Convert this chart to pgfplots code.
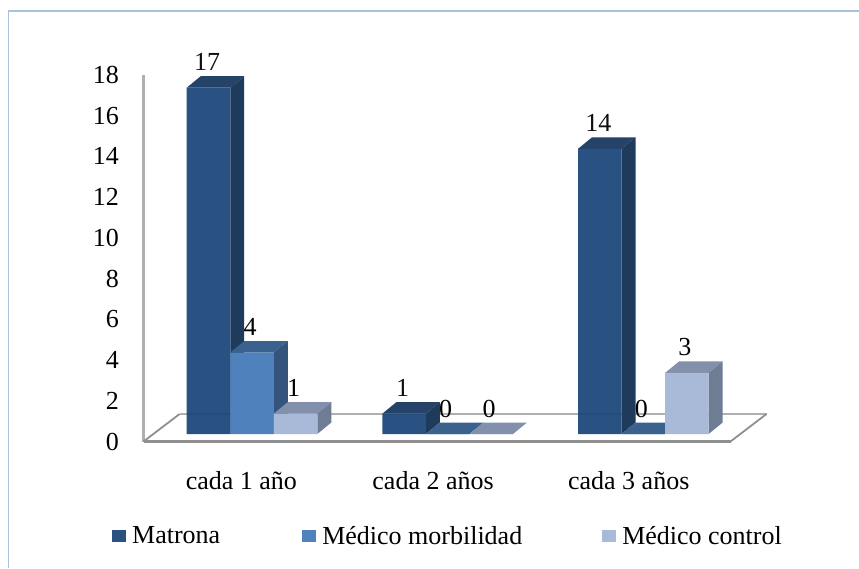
\documentclass[border=0pt]{standalone}
\usepackage{pgfplots}
\usepackage{fontspec}
\pgfplotsset{compat=1.18}
\setmainfont{Liberation Serif}
\newcommand{\chartfont}{\fontsize{26}{30}\selectfont}

\definecolor{matronaF}{HTML}{1C477B}
\definecolor{matronaS}{HTML}{1F3B5C}
\definecolor{matronaT}{HTML}{254269}
\definecolor{morbF}{HTML}{4F81BD}
\definecolor{morbS}{HTML}{34547C}
\definecolor{morbT}{HTML}{3B618F}
\definecolor{ctrlF}{HTML}{A9BAD9}
\definecolor{ctrlS}{HTML}{6F7D94}
\definecolor{ctrlT}{HTML}{8290AB}
\definecolor{wallgray}{HTML}{B0B0B0}
\definecolor{floorgray}{HTML}{8F8F8F}
\definecolor{framecol}{HTML}{A9C2E0}

% Receding faces of one bar: #1 centre, #2 value, #3 side colour, #4 top colour
\newcommand{\barfaces}[4]{%
  \pgfmathsetmacro{\xl}{#1-0.1112}%
  \pgfmathsetmacro{\xr}{#1+0.1112}%
  \pgfmathsetmacro{\xlb}{\xl+0.0715}%
  \pgfmathsetmacro{\xrb}{\xr+0.0715}%
  \pgfmathsetmacro{\vb}{#2+0.5646}%
  \addplot[forget plot,fill=#4,draw=none] coordinates {(\xl,#2) (\xr,#2) (\xrb,\vb) (\xlb,\vb)} --cycle;
  \ifdim #2pt>0pt
    \addplot[forget plot,fill=#3,draw=none] coordinates {(\xr,0) (\xrb,0.5646) (\xrb,\vb) (\xr,#2)} --cycle;
  \fi
}

\begin{document}
\begin{tikzpicture}[x=1pt,y=1pt]
\path[use as bounding box] (0,0) rectangle (859,568);
\draw[framecol,line width=1.2pt] (8.5,0) -- (8.5,557) -- (859,557);

% Wall, floor, value scale and category names
\begin{axis}[
  at={(143.5pt,126.5pt)},anchor=south west,
  scale only axis,width=587pt,height=366.7pt,
  xmin=-0.5,xmax=2.5,ymin=0,ymax=18,
  clip=false,
  axis x line=bottom,axis y line=left,
  x axis line style={draw=floorgray,line width=2.4pt,-},
  y axis line style={draw=wallgray,line width=2.8pt,-},
  major tick length=0pt,
  ytick={0,2,...,18},
  xtick={0,0.98,1.98},
  xticklabels={cada 1 año,cada 2 años,cada 3 años},
  /pgf/number format/assume math mode=true,
  tick label style={font=\chartfont,text=black},
  y tick label style={anchor=east,xshift=-21pt},
  x tick label style={anchor=center,yshift=-39pt},
]
\addplot[draw=wallgray,line width=2.4pt] coordinates {(-0.3155,1.35) (2.684,1.35)};
\addplot[draw=floorgray,line width=1.8pt] coordinates {(-0.5,0) (-0.3155,1.35)};
\addplot[draw=floorgray,line width=1.8pt] coordinates {(2.5,0) (2.684,1.35)};
\end{axis}

% Bars with their receding faces, values and legend
\begin{axis}[
  at={(154.2pt,134pt)},anchor=south west,
  scale only axis,width=587pt,height=366.7pt,
  xmin=-0.5,xmax=2.5,ymin=0,ymax=18,
  clip=false,
  axis lines=none,
  bar width=0.2225,
  every node near coord/.style={anchor=center,yshift=25.5pt,font=\chartfont,text=black},
  /pgf/number format/assume math mode=true,
  legend style={at={(-0.0719,-0.278)},anchor=west,draw=none,fill=none,inner sep=0pt,
    font=\chartfont,legend columns=3,
    /tikz/column 2/.style={column sep=80pt},
    /tikz/column 4/.style={column sep=78pt}},
  legend image code/.code={\fill[#1] (0pt,-6pt) rectangle (14pt,6pt);\path (18pt,0pt);},
]
\barfaces{-0.2225}{17}{matronaS}{matronaT}
\barfaces{0.7775}{1}{matronaS}{matronaT}
\barfaces{1.7775}{14}{matronaS}{matronaT}
\addplot[ybar,bar shift=-0.2225,fill=matronaF,fill opacity=0.94,draw=none,
  nodes near coords,every node near coord/.append style={xshift=-45pt}]
  coordinates {(0,17) (1,1) (2,14)};
\addlegendentry{Matrona}

\barfaces{0}{4}{morbS}{morbT}
\barfaces{1}{0}{morbS}{morbT}
\barfaces{2}{0}{morbS}{morbT}
\addplot[ybar,bar shift=0,fill=morbF,draw=none,
  nodes near coords,every node near coord/.append style={xshift=-2pt}]
  coordinates {(0,4) (1,0) (2,0)};
\addlegendentry{Médico morbilidad}

\barfaces{0.2225}{1}{ctrlS}{ctrlT}
\barfaces{1.2225}{0}{ctrlS}{ctrlT}
\barfaces{2.2225}{3}{ctrlS}{ctrlT}
\addplot[ybar,bar shift=0.2225,fill=ctrlF,draw=none,
  nodes near coords,every node near coord/.append style={xshift=41.5pt}]
  coordinates {(0,1) (1,0) (2,3)};
\addlegendentry{Médico control}
\end{axis}
\end{tikzpicture}
\end{document}
